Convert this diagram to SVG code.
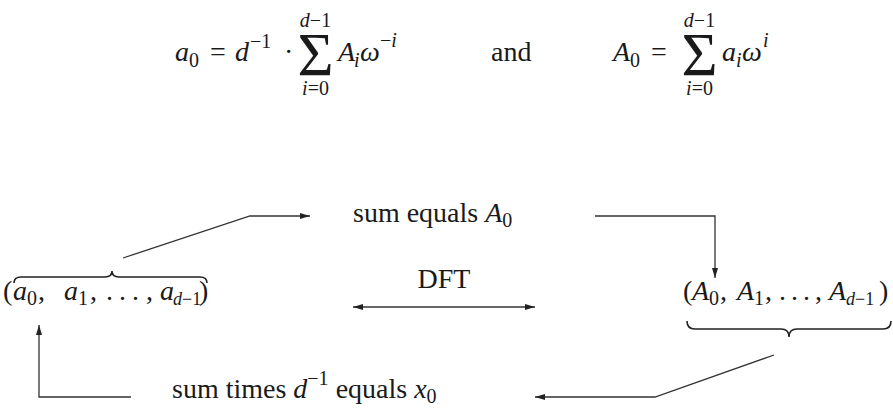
<svg xmlns="http://www.w3.org/2000/svg" width="893" height="415" viewBox="0 0 893 415">
<style>
text{font-family:"Liberation Serif","Times New Roman",serif;font-size:28px;fill:#1a1a1a}
.i{font-style:italic}
.s{font-size:20px}
.xs{font-size:18px}
.big{font-size:62px}
.ln{fill:none;stroke:#333;stroke-width:1.3}
.br{fill:none;stroke:#222;stroke-width:1.6}
</style>
<defs>
<marker id="ah" viewBox="0 0 10 8" refX="10" refY="4" markerWidth="10" markerHeight="8" markerUnits="userSpaceOnUse" orient="auto-start-reverse">
<path d="M0,1 L10,4 L0,7 z" fill="#222"/>
</marker>
</defs>
<rect width="893" height="415" fill="#fff"/>

<g id="formula-left">
<text class="i" x="175" y="61">a</text>
<text class="s" x="189" y="67">0</text>
<text x="210" y="61">=</text>
<text class="i" x="235" y="61">d</text>
<text class="s" x="250" y="48">−1</text>
<text x="284" y="61">·</text>
<text class="big" x="315.5" y="75" text-anchor="middle">Σ</text>
<text class="s" x="315.5" y="27" text-anchor="middle"><tspan class="i">d</tspan>−1</text>
<text class="s" x="315.5" y="95" text-anchor="middle"><tspan class="i">i</tspan>=0</text>
<text class="i" x="338" y="61">A</text>
<text class="s i" x="354" y="67">i</text>
<text class="i" x="360" y="61">ω</text>
<text class="s" x="380" y="47">−<tspan class="i">i</tspan></text>
</g>

<g id="and">
<text x="491" y="61">and</text>
</g>

<g id="formula-right">
<text class="i" x="613" y="61">A</text>
<text class="s" x="630" y="67">0</text>
<text x="651" y="61">=</text>
<text class="big" x="699.5" y="75" text-anchor="middle">Σ</text>
<text class="s" x="699.5" y="27" text-anchor="middle"><tspan class="i">d</tspan>−1</text>
<text class="s" x="699.5" y="95" text-anchor="middle"><tspan class="i">i</tspan>=0</text>
<text class="i" x="722" y="61">a</text>
<text class="s i" x="736" y="67">i</text>
<text class="i" x="742" y="61">ω</text>
<text class="s i" x="763" y="47">i</text>
</g>

<g id="sum-equals">
<text x="353" y="222">sum equals <tspan class="i">A</tspan><tspan class="s" dy="5">0</tspan></text>
</g>

<g id="dft">
<text x="444" y="288" text-anchor="middle">DFT</text>
</g>

<g id="left-tuple">
<path class="br" d="M14,283 Q14,277 21,277 L105,277 Q112,277 112,271 Q112,277 119,277 L200,277 Q207,277 207,283"/>
<text x="3" y="300">(</text>
<text class="i" x="13" y="300">a</text>
<text class="s" x="27" y="305">0</text>
<text x="38" y="300">,</text>
<text class="i" x="64" y="300">a</text>
<text class="s" x="78" y="305">1</text>
<text x="90" y="300">,</text>
<text x="106" y="300">.</text>
<text x="119" y="300">.</text>
<text x="132" y="300">.</text>
<text x="146" y="300">,</text>
<text class="i" x="160" y="300">a</text>
<text class="xs" x="173" y="305"><tspan class="i">d</tspan>−1</text>
<text x="199" y="300">)</text>
</g>

<g id="right-tuple">
<text x="683" y="300">(</text>
<text class="i" x="692" y="300">A</text>
<text class="s" x="709" y="305">0</text>
<text x="720" y="300">,</text>
<text class="i" x="737" y="300">A</text>
<text class="s" x="754" y="305">1</text>
<text x="765" y="300">,</text>
<text x="779" y="300">.</text>
<text x="791" y="300">.</text>
<text x="803" y="300">.</text>
<text x="815" y="300">,</text>
<text class="i" x="829" y="300">A</text>
<text class="xs" x="846" y="305"><tspan class="i">d</tspan>−1</text>
<text x="879" y="300">)</text>
<path class="br" d="M687,321 Q687,329 695,329 L781,329 Q789,329 789,337 Q789,329 797,329 L883,329 Q891,329 891,321"/>
</g>

<g id="sum-times">
<text x="172" y="398">sum times <tspan class="i">d</tspan><tspan class="s" dy="-13">−1</tspan><tspan dy="13"> equals </tspan><tspan class="i">x</tspan><tspan class="s" dy="5">0</tspan></text>
</g>

<g id="connectors">
<polyline class="ln" points="123,258 250,216 310,216" marker-end="url(#ah)"/>
<polyline class="ln" points="595,216 715,216 715,278" marker-end="url(#ah)"/>
<line class="ln" x1="353" y1="307" x2="535" y2="307" marker-start="url(#ah)" marker-end="url(#ah)"/>
<polyline class="ln" points="774,355 655,397 535,397" marker-end="url(#ah)"/>
<polyline class="ln" points="131,397 39,397 39,325" marker-end="url(#ah)"/>
</g>
</svg>
